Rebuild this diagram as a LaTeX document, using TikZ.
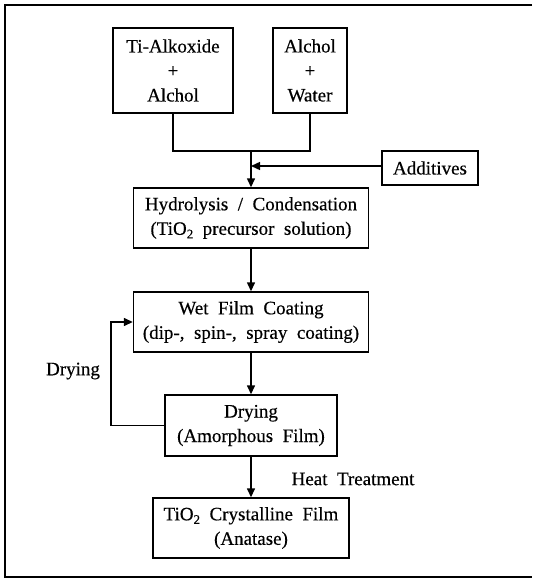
\documentclass[tikz,border=0pt]{standalone}
\usepackage{fontspec}
\setmainfont[FakeBold=0.4,WordSpace=2]{Liberation Serif}
\usetikzlibrary{arrows.meta}
\newcommand{\subtwo}{\raisebox{-3.5pt}{\fontsize{13}{13}\selectfont 2}}
\begin{document}
\begin{tikzpicture}[x=1pt,y=-1pt,
  box/.style={draw,line width=1.4pt,inner sep=0pt,align=center,font=\fontsize{19}{24.5}\selectfont},
  lbl/.style={inner sep=0pt,font=\fontsize{19}{24.5}\selectfont},
  conn/.style={line width=1.4pt},
  arr/.style={conn,-{Triangle[length=9pt,width=8pt]}}]
\useasboundingbox (0,0) rectangle (532,580);
\draw[line width=1.6pt] (532,5) -- (5,5) -- (5,577) -- (532,577);
\node[box,minimum width=120pt,minimum height=85pt] (ti) at (173,70.5) {Ti-Alkoxide\\+\\Alchol};
\node[box,minimum width=74pt,minimum height=85pt] (aw) at (310,70.5) {Alchol\\+\\Water};
\node[box,minimum width=96pt,minimum height=34pt] (add) at (430,168) {Additives};
\node[box,minimum width=235pt,minimum height=60pt] (hy) at (251,218) {Hydrolysis / Condensation\\(TiO\subtwo{} precursor solution)};
\node[box,minimum width=235pt,minimum height=60pt] (wf) at (251,322) {Wet Film Coating\\(dip-, spin-, spray coating)};
\node[box,minimum width=172pt,minimum height=61pt] (dr) at (251,425.5) {Drying\\(Amorphous Film)};
\node[box,minimum width=196pt,minimum height=60pt] (cr) at (251,528) {TiO\subtwo{} Crystalline Film\\(Anatase)};
\coordinate (j) at (251,151);
\coordinate (m) at (251,166);
\coordinate (lx) at (111,0);
\draw[conn] (ti.south) |- (j) -| (aw.south);
\draw[arr] (j) -- (hy.north);
\draw[arr] (add.west |- m) -- (m);
\draw[arr] (hy.south) -- (wf.north);
\draw[arr] (wf.south) -- (dr.north);
\draw[arr] (dr.south) -- (cr.north);
\draw[arr] (dr.west) -- (lx |- dr.west) -- (lx |- wf.west) -- (wf.west);
\node[lbl] (dl) at (73,371) {Drying};
\node[lbl] (ht) at (353,479) {Heat Treatment};
\end{tikzpicture}
\end{document}
